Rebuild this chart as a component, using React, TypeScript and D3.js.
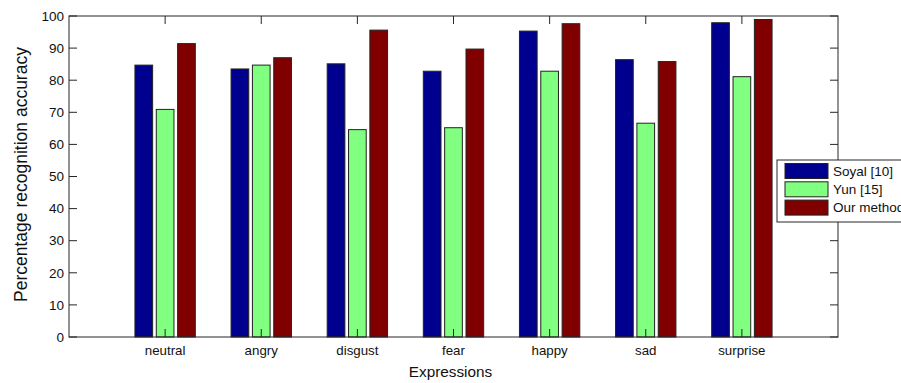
import React from "react";
import * as d3 from "d3";

const categories = ["neutral", "angry", "disgust", "fear", "happy", "sad", "surprise"];
const seriesNames = ["Soyal [10]", "Yun [15]", "Our method"];
const soyal = [84.7, 83.5, 85.1, 82.8, 95.3, 86.4, 97.9];
const yun = [70.9, 84.7, 64.6, 65.2, 82.8, 66.6, 81.1];
const ours = [91.4, 87.0, 95.6, 89.7, 97.6, 85.8, 98.9];
const yTicks = [0, 10, 20, 30, 40, 50, 60, 70, 80, 90, 100];
const colors = ["#00008f", "#80ff80", "#800000"];

const W = 901, H = 383;
const L = 69, R = 838, T = 16, B = 337;
const FONT = "Liberation Sans, Arial, sans-serif";

export default function App() {
  const series = [soyal, yun, ours];
  const x = d3.scaleLinear().domain([0, categories.length + 1]).range([L, R]);
  const y = d3.scaleLinear().domain([0, 100]).range([B, T]);
  const unit = x(1) - x(0);
  const pitch = 0.222 * unit;
  const bw = 0.184 * unit;
  const tickLen = 8;
  const stroke = "#262626";

  return (
    <svg width={W} height={H} style={{ position: "absolute", left: 0, top: 0, background: "#fff" }}>
      <rect x={0} y={0} width={W} height={H} fill="#fff" />
      {categories.map((c, i) =>
        series.map((s, j) => {
          const cx = x(i + 1) + (j - 1) * pitch;
          return (
            <rect
              key={c + j}
              x={cx - bw / 2}
              y={y(s[i])}
              width={bw}
              height={y(0) - y(s[i])}
              fill={colors[j]}
              stroke="#222"
              strokeWidth={1}
            />
          );
        })
      )}
      <rect x={L} y={T} width={R - L} height={B - T} fill="none" stroke={stroke} strokeWidth={1} />
      {yTicks.map((t) => (
        <g key={t}>
          <line x1={L} x2={L + tickLen} y1={y(t)} y2={y(t)} stroke={stroke} />
          <line x1={R} x2={R - tickLen} y1={y(t)} y2={y(t)} stroke={stroke} />
          <text x={L - 5} y={y(t)} dy="0.35em" textAnchor="end" fontFamily={FONT} fontSize={13.5} fill="#111">
            {t}
          </text>
        </g>
      ))}
      {categories.map((c, i) => (
        <g key={c}>
          <line x1={x(i + 1)} x2={x(i + 1)} y1={T} y2={T + tickLen} stroke={stroke} />
          <line x1={x(i + 1)} x2={x(i + 1)} y1={B} y2={B - tickLen} stroke={stroke} />
          <text x={x(i + 1)} y={B + 13} dy="0.35em" textAnchor="middle" fontFamily={FONT} fontSize={13.3} fill="#111">
            {c}
          </text>
        </g>
      ))}
      <text x={(L + R) / 2 - 3} y={372} dy="0.35em" textAnchor="middle" fontFamily={FONT} fontSize={15.3} fill="#111">
        Expressions
      </text>
      <text
        transform={`translate(21,174.5) rotate(-90)`}
        dy="0.35em"
        textAnchor="middle"
        fontFamily={FONT}
        fontSize={17.5}
        fill="#111"
      >
        Percentage recognition accuracy
      </text>
      <g>
        <rect x={777} y={160} width={140} height={62} fill="#fff" stroke={stroke} strokeWidth={1} />
        {seriesNames.map((n, j) => (
          <g key={n}>
            <rect x={785} y={163.5 + j * 18.3} width={43} height={15} fill={colors[j]} stroke="#222" />
            <text x={833} y={171 + j * 18.3} dy="0.35em" fontFamily={FONT} fontSize={13.5} fill="#111">
              {n}
            </text>
          </g>
        ))}
      </g>
    </svg>
  );
}
